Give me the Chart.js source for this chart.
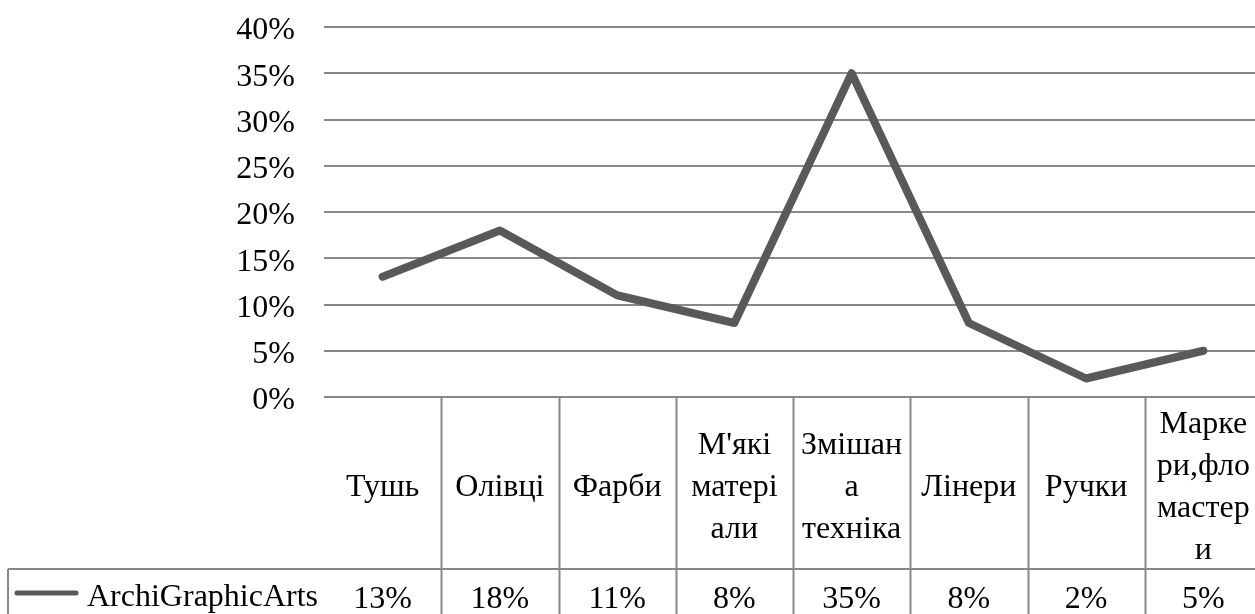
<!DOCTYPE html>
<html>
<head>
<meta charset="utf-8">
<script src="https://cdn.jsdelivr.net/npm/chart.js@4"></script>
<style>
  html, body { margin: 0; padding: 0; background: #fff; overflow: hidden; }
  #wrap { width: 1262px; height: 614px; }
</style>
</head>
<body>
<div id="wrap"><canvas id="chart" width="1262" height="614"></canvas></div>
<script>
// Data
const categories = [
    ['Тушь'],
    ['Олівці'],
    ['Фарби'],
    ["М'які", 'матері', 'али'],
    ['Змішан', 'а', 'техніка'],
    ['Лінери'],
    ['Ручки'],
    ['Марке', 'ри,фло', 'мастер', 'и']
];
const seriesName = 'ArchiGraphicArts';
const seriesValues = [13, 18, 11, 8, 35, 8, 2, 5];
const yTicks = [0, 5, 10, 15, 20, 25, 30, 35, 40];

// Styles
const FONT = '"Liberation Serif", "Times New Roman", serif';
const FONT_SIZE = 32;
const LINE_COLOR = '#595959';
const GRID_COLOR = '#888888';

// Data table under the plot (Excel style)
const dataTable = {
    id: 'dataTable',
    afterDraw(chart) {
        const { ctx, chartArea } = chart;
        const x = chart.scales.x;
        const n = categories.length;
        const colW = (chartArea.right - chartArea.left) / n;
        const top = chartArea.bottom;
        const rowY = 569;
        const bottom = chart.height;
        const legendLeft = 8;

        ctx.save();
        ctx.strokeStyle = GRID_COLOR;
        ctx.lineWidth = 2;

        // column separators
        for (let i = 1; i <= n; i++) {
            const cx = Math.round(chartArea.left + i * colW) + 0.5;
            ctx.beginPath();
            ctx.moveTo(cx, top);
            ctx.lineTo(cx, bottom);
            ctx.stroke();
        }
        // row divider + legend cell border
        ctx.beginPath();
        ctx.moveTo(legendLeft, rowY);
        ctx.lineTo(chartArea.right, rowY);
        ctx.moveTo(legendLeft, rowY);
        ctx.lineTo(legendLeft, bottom);
        ctx.stroke();

        // category headers
        ctx.fillStyle = '#000';
        ctx.font = FONT_SIZE + 'px ' + FONT;
        ctx.textAlign = 'center';
        ctx.textBaseline = 'middle';
        const headMid = (top + rowY) / 2 + 5;
        const lh = 42;
        categories.forEach((lines, i) => {
            const px = x.getPixelForValue(i);
            const y0 = headMid - (lines.length - 1) * lh / 2;
            lines.forEach((ln, j) => ctx.fillText(ln, px, y0 + j * lh));
        });

        // values row
        const valY = 600;
        seriesValues.forEach((v, i) => {
            ctx.fillText(v + '%', x.getPixelForValue(i), valY);
        });

        // legend key
        ctx.strokeStyle = LINE_COLOR;
        ctx.lineWidth = 5;
        ctx.lineCap = 'round';
        ctx.beginPath();
        ctx.moveTo(17, 593);
        ctx.lineTo(76, 593);
        ctx.stroke();
        ctx.textAlign = 'left';
        ctx.fillText(seriesName, 87, valY - 2);
        ctx.restore();
    }
};

new Chart(document.getElementById('chart'), {
    type: 'line',
    data: {
        labels: categories,
        datasets: [{
            label: seriesName,
            data: seriesValues,
            borderColor: LINE_COLOR,
            borderWidth: 8,
            borderCapStyle: 'round',
            borderJoinStyle: 'round',
            tension: 0,
            pointRadius: 0,
            fill: false
        }]
    },
    options: {
        responsive: false,
        animation: false,
        devicePixelRatio: 1,
        layout: { padding: { top: 27, bottom: 217, left: 0, right: 0 } },
        plugins: { legend: { display: false }, tooltip: { enabled: false } },
        scales: {
            x: { display: false, offset: true },
            y: {
                min: yTicks[0],
                max: yTicks[yTicks.length - 1],
                afterFit: s => { s.width = 324; s.paddingTop = 0; s.paddingBottom = 0; },
                afterBuildTicks: s => { s.ticks = yTicks.map(v => ({ value: v })); },
                border: { display: false },
                grid: { color: GRID_COLOR, lineWidth: 2, drawTicks: false },
                ticks: {
                    padding: 29,
                    labelOffset: 4,
                    color: '#000',
                    font: { family: FONT, size: FONT_SIZE },
                    callback: v => v + '%'
                }
            }
        }
    },
    plugins: [dataTable]
});
</script>
</body>
</html>
